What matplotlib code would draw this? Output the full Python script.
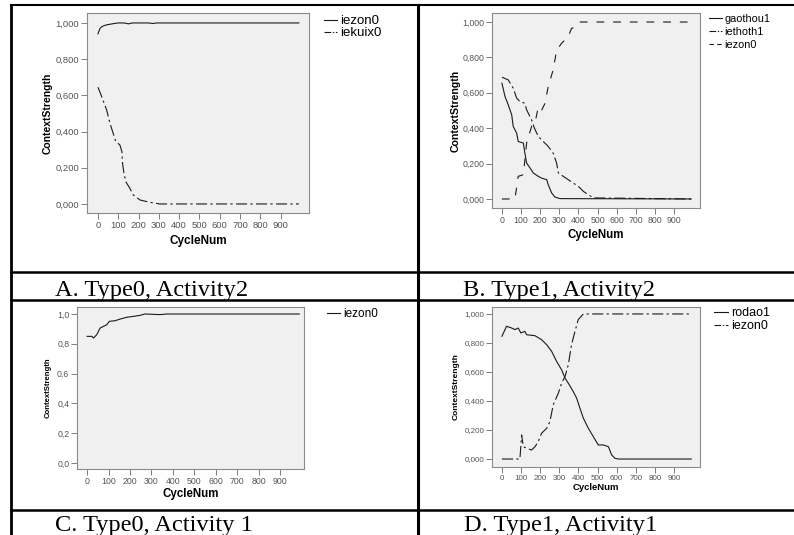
import matplotlib
matplotlib.use("Agg")
import matplotlib.pyplot as plt
from matplotlib.lines import Line2D

W, H = 794, 535

# ---- data ----
xticks = [0, 100, 200, 300, 400, 500, 600, 700, 800, 900]
yticks = [0.0, 0.2, 0.4, 0.6, 0.8, 1.0]

# A. Type0, Activity2
a_x_iezon0 = [0, 5, 10, 20, 30, 45, 60, 80, 100, 130, 150, 170, 200, 250, 270, 290, 310, 990]
a_iezon0 = [0.94, 0.955, 0.97, 0.98, 0.985, 0.99, 0.993, 0.997, 1.0, 1.0, 0.995, 1.0, 1.0, 1.0, 0.997, 1.0, 1.0, 1.0]
a_x_iekuix0 = [0, 18, 43, 59, 75, 88, 108, 118, 121, 127, 137, 157, 174, 207, 256, 305, 990]
a_iekuix0 = [0.645, 0.594, 0.519, 0.446, 0.39, 0.344, 0.326, 0.289, 0.225, 0.178, 0.123, 0.087, 0.05, 0.022, 0.009, 0.0, 0.0]

# B. Type1, Activity2
b_x_gaothou1 = [0, 16, 33, 51, 59, 77, 85, 112, 120, 129, 147, 164, 190, 207, 234, 242, 260, 277, 304, 990]
b_gaothou1 = [0.654, 0.579, 0.532, 0.476, 0.41, 0.372, 0.325, 0.316, 0.259, 0.203, 0.175, 0.147, 0.128, 0.118, 0.109, 0.081, 0.034, 0.011, 0.002, 0.0]
b_x_iethoth1 = [0, 33, 59, 77, 94, 120, 129, 155, 170, 190, 216, 242, 268, 286, 295, 321, 347, 373, 400, 426, 452, 478, 990]
b_iethoth1 = [0.688, 0.673, 0.626, 0.57, 0.551, 0.541, 0.504, 0.447, 0.40, 0.353, 0.325, 0.297, 0.259, 0.203, 0.147, 0.128, 0.109, 0.09, 0.071, 0.043, 0.024, 0.006, 0.0]
b_x_iezon0 = [0, 68, 85, 112, 129, 155, 173, 190, 207, 225, 242, 268, 286, 312, 347, 364, 391, 408, 990]
b_iezon0 = [0, 0, 0.128, 0.137, 0.316, 0.41, 0.43, 0.52, 0.50, 0.54, 0.635, 0.73, 0.84, 0.88, 0.917, 0.964, 0.974, 1.0, 1.0]

# C. Type0, Activity 1
c_x_iezon0 = [0, 22, 30, 45, 61, 76, 92, 104, 131, 154, 185, 216, 247, 270, 340, 372, 990]
c_iezon0 = [0.85, 0.85, 0.839, 0.861, 0.906, 0.917, 0.928, 0.951, 0.955, 0.966, 0.978, 0.984, 0.991, 1.0, 0.996, 1.0, 1.0]

# D. Type1, Activity1
d_x_rodao1 = [0, 24, 51, 68, 85, 99, 120, 129, 173, 207, 234, 260, 286, 312, 330, 347, 373, 391, 408, 426, 452, 478, 504, 530, 557, 574, 591, 609, 990]
d_rodao1 = [0.846, 0.915, 0.903, 0.892, 0.903, 0.869, 0.88, 0.857, 0.85, 0.823, 0.788, 0.742, 0.673, 0.615, 0.558, 0.523, 0.465, 0.419, 0.35, 0.281, 0.212, 0.154, 0.097, 0.097, 0.085, 0.028, 0.005, 0.0, 0.0]
d_x_iezon0 = [0, 94, 103, 112, 129, 155, 173, 190, 207, 234, 251, 268, 295, 312, 330, 347, 364, 382, 399, 426, 990]
d_iezon0 = [0, 0, 0.166, 0.085, 0.074, 0.062, 0.085, 0.12, 0.177, 0.212, 0.258, 0.373, 0.454, 0.523, 0.569, 0.65, 0.788, 0.88, 0.961, 1.0, 1.0]

captions = ["A. Type0, Activity2", "B. Type1, Activity2", "C. Type0, Activity 1", "D. Type1, Activity1"]

# (pattern in plot, shorter pattern for the legend key)
SOLID = (None, None)
DASHDOT = ([10, 3, 2, 3], [6, 1.5, 1.2, 1.5])
DASHED = ([7, 8], [4, 3])

plt.rcParams['font.family'] = ['Liberation Sans', 'DejaVu Sans']

fig = plt.figure(figsize=(W / 100, H / 100), dpi=100)
fig.patch.set_facecolor('white')


def rect(x0, y0, x1, y1):
	return [x0 / W, 1 - y1 / H, (x1 - x0) / W, (y1 - y0) / H]


def hline(y, x0, x1, lw):
	fig.add_artist(Line2D([x0 / W, x1 / W], [1 - y / H, 1 - y / H], transform=fig.transFigure, color='black', lw=lw))


def vline(x, y0, y1, lw):
	fig.add_artist(Line2D([x / W, x / W], [1 - y0 / H, 1 - y1 / H], transform=fig.transFigure, color='black', lw=lw))


def panel(box, xlim, ylim, series, decimals, tick_fs, xl_fs, yl_fs, xl_y, yl_x, leg_xy, leg_fs, leg_sp, leg_hl):
	ax = fig.add_axes(rect(*box))
	ax.set_facecolor('#f0f0f0')
	for s in ax.spines.values():
		s.set_color('#8a8a8a')
		s.set_linewidth(0.8)
	for xs, ys, name, dash in series:
		line, = ax.plot(xs, ys, color='#1a1a1a', lw=0.8, label=name)
		if dash[0] is not None:
			line.set_dashes(dash[0])
	ax.set_xlim(*xlim)
	ax.set_ylim(*ylim)
	ax.set_xticks(xticks)
	ax.set_yticks(yticks)
	fmt = '{:.%df}' % decimals
	ax.set_yticklabels([fmt.format(v).replace('.', ',') for v in yticks])
	ax.tick_params(length=4, width=0.6, color='#666666', labelcolor='#555555', labelsize=tick_fs, pad=1.5)
	ax.set_xlabel('CycleNum', fontsize=xl_fs, fontweight='bold')
	ax.set_ylabel('ContextStrength', fontsize=yl_fs, fontweight='bold', va='center')
	bw = box[2] - box[0]
	bh = box[3] - box[1]
	ax.xaxis.set_label_coords(0.5, (box[3] - xl_y) / bh)
	ax.xaxis.label.set_va('center')
	ax.yaxis.set_label_coords((yl_x - box[0]) / bw, 0.5)
	leg = ax.legend(loc='upper left', bbox_to_anchor=(leg_xy[0] / W, 1 - leg_xy[1] / H), bbox_transform=fig.transFigure,
		frameon=False, fontsize=leg_fs, handlelength=leg_hl, handletextpad=0.25, labelspacing=leg_sp,
		borderpad=0, borderaxespad=0)
	for ll, s in zip(leg.get_lines(), series):
		if s[3][1] is not None:
			ll.set_dashes(s[3][1])
	return ax


panel((87, 13, 309, 213), (-54, 1040), (-0.05, 1.055),
	[(a_x_iezon0, a_iezon0, 'iezon0', SOLID), (a_x_iekuix0, a_iekuix0, 'iekuix0', DASHDOT)],
	3, 6.8, 8.5, 7.5, 241, 48, (324, 15), 9.5, 0.0, 1.0)

panel((492, 13, 700, 208), (-52, 1036), (-0.051, 1.051),
	[(b_x_gaothou1, b_gaothou1, 'gaothou1', SOLID), (b_x_iethoth1, b_iethoth1, 'iethoth1', DASHDOT),
	 (b_x_iezon0, b_iezon0, 'iezon0', DASHED)],
	3, 6.3, 8.3, 7.6, 235, 456, (709, 14), 7.8, 0.28, 1.2)

panel((77, 307, 304, 469), (-47, 1012), (-0.04, 1.047),
	[(c_x_iezon0, c_iezon0, 'iezon0', SOLID)],
	1, 6.3, 8.3, 5.6, 494, 48, (327, 308), 8.5, 0.15, 1.1)

panel((492, 307, 700, 467), (-52, 1036), (-0.055, 1.048),
	[(d_x_rodao1, d_rodao1, 'rodao1', SOLID), (d_x_iezon0, d_iezon0, 'iezon0', DASHDOT)],
	3, 5.8, 6.8, 6.0, 488, 456, (714, 307), 9, 0.07, 1.1)

# table rules
hline(5, 11, 794, 1.5)
hline(272, 11, 794, 1.8)
hline(300, 11, 794, 1.8)
hline(510, 11, 794, 1.8)
vline(11, 5, 535, 2.0)
vline(418, 5, 535, 2.2)

# captions
cap_pos = [(55, 296), (463, 296), (55, 531), (464, 531)]
for (cx, cy), txt in zip(cap_pos, captions):
	fig.text(cx / W, 1 - cy / H, txt, fontsize=17.6, family='Liberation Serif', ha='left', va='baseline')

fig.savefig('out.png', dpi=100)
